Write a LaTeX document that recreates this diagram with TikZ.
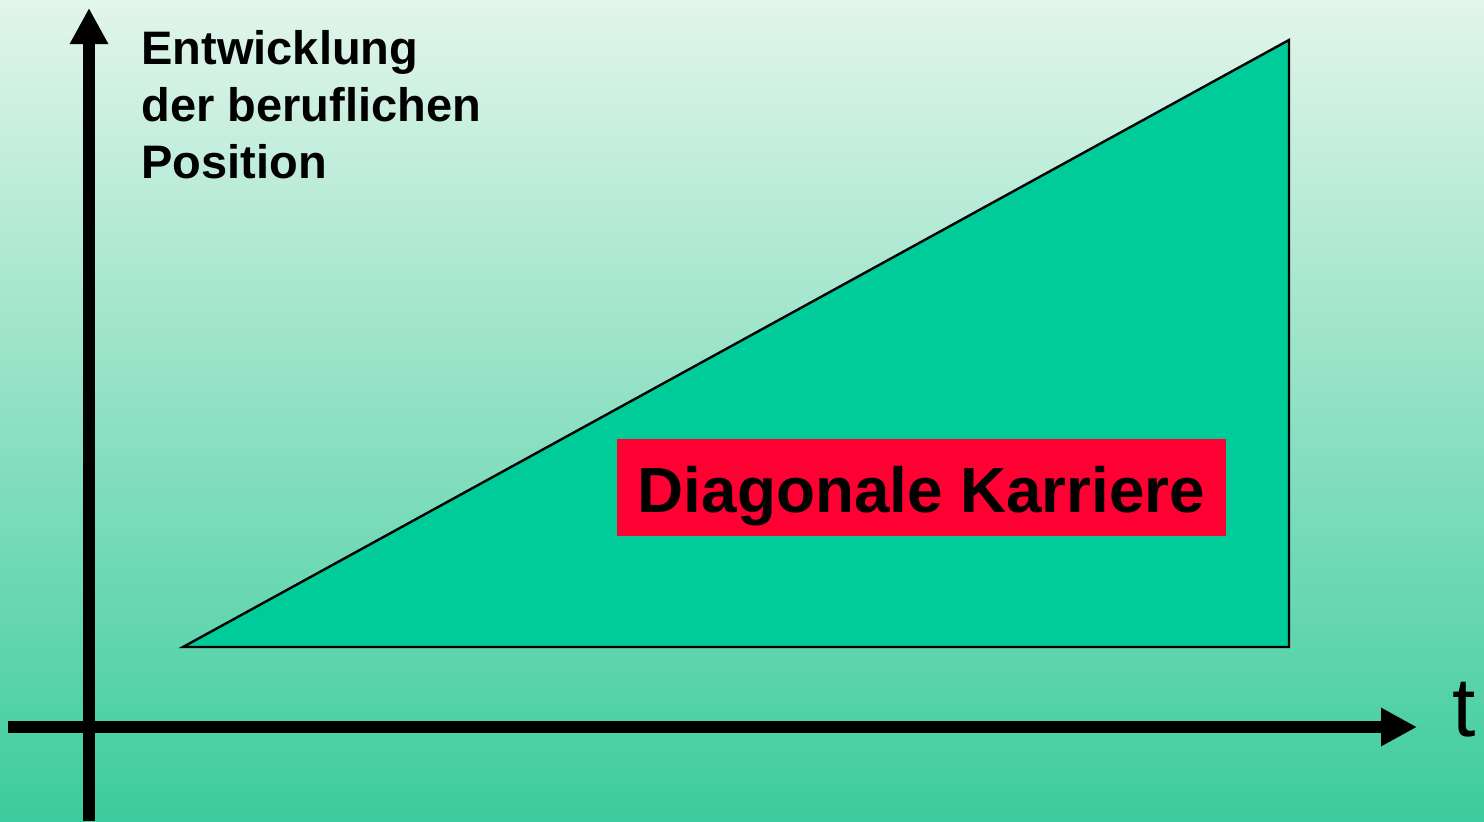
\documentclass[tikz,border=0pt]{standalone}
\usepackage{fontspec}
\setmainfont{Liberation Sans}
\usetikzlibrary{arrows.meta}
\definecolor{bgtop}{RGB}{226,245,235}
\definecolor{bgbot}{RGB}{60,204,157}
\definecolor{areagreen}{RGB}{0,204,153}
\definecolor{labelred}{RGB}{255,0,51}
\tikzset{
  axis/.style={line width=6pt, -{Triangle[length=18pt,width=18pt]}},
  area/.style={fill=areagreen, draw=black, line width=1.2pt, line join=miter},
  labelbox/.style={fill=labelred, minimum width=304.5pt, minimum height=48.5pt, inner sep=0pt,
    text height=24.5pt, text depth=0pt,
    font=\fontsize{31.9pt}{38pt}\selectfont\bfseries},
}
\begin{document}
\begin{tikzpicture}[x=0.5pt,y=-0.5pt]
\useasboundingbox (0,0) rectangle (1484,821);
\shade[top color=bgtop, bottom color=bgbot] (0,0) rectangle (1484,821);
% triangle
\coordinate (p1) at (183,647);
\coordinate (p2) at (1289,40);
\coordinate (p3) at (1289,647);
\draw[area] (p1) -- (p2) -- (p3) -- cycle;
% axes
\coordinate (ybot) at (89,821);
\coordinate (ytop) at (89,8);
\coordinate (xleft) at (8,727);
\coordinate (xright) at (1417,727);
\draw[axis] (ybot) -- (ytop);
\draw[axis] (xleft) -- (xright);
% labels
\node[anchor=north west, inner sep=0pt, align=left,
  font=\fontsize{23.5pt}{28.5pt}\selectfont\bfseries] (ylabel) at (141,30)
  {Entwicklung\\der beruflichen\\Position};
\node[anchor=base west, inner sep=0pt, font=\fontsize{42pt}{48pt}\selectfont] (tlabel) at (1452,736) {t};
\node[labelbox] (dk) at (921.5,487.5) {Diagonale Karriere};
\end{tikzpicture}
\end{document}
